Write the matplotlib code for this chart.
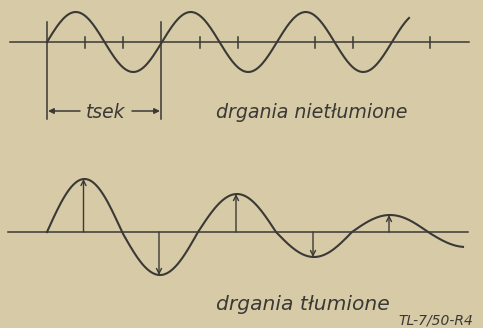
import numpy as np
import matplotlib.pyplot as plt

# drgania nietłumione (gorny wykres) - miejsca zerowe i amplitudy polfal, w px
top_zeros = [47, 104.5, 162, 219.5, 277, 334.5, 392, 449.5]
top_amps = [30, -30, 30, -30, 30, -30, 30]
top_end = 409
top_axis_y = 42
top_ticks = [85, 123, 200, 238, 315, 353, 430]

# drgania tłumione (dolny wykres)
bot_zeros = [47, 122, 198, 276, 352, 428, 504]
bot_amps = [53, -43, 38, -25, 17, -15]
bot_end = 463
bot_axis_y = 232

labels = ['drgania nietłumione', 'drgania tłumione', 'tsek', 'TL-7/50-R4']

bg = '#d7caa6'
ink = '#3a3935'


def curve(zeros, amps, x_end, axis_y):
    xs, ys = [], []
    for i, a in enumerate(amps):
        x0, x1 = zeros[i], zeros[i + 1]
        x = np.linspace(x0, min(x1, x_end), 60)
        xs.append(x)
        ys.append(axis_y - a * np.sin(np.pi * (x - x0) / (x1 - x0)))
        if x1 >= x_end:
            break
    return np.concatenate(xs), np.concatenate(ys)


fig = plt.figure(figsize=(4.83, 3.28), dpi=100, facecolor=bg)
ax = fig.add_axes([0, 0, 1, 1])
ax.set_facecolor(bg)
ax.set_xlim(0, 483)
ax.set_ylim(328, 0)
ax.axis('off')

# gorny wykres
ax.plot([10, 469], [top_axis_y, top_axis_y], color=ink, lw=1.1)
x, y = curve(top_zeros, top_amps, top_end, top_axis_y)
ax.plot(x, y, color=ink, lw=1.5)
for t in top_ticks:
    ax.plot([t, t], [top_axis_y - 5, top_axis_y + 6], color=ink, lw=1.1)
for vx in [top_zeros[0], top_zeros[2] - 1]:
    ax.plot([vx, vx], [22, 119], color=ink, lw=1.1)

# strzalki okresu
ax.annotate('', xy=(48, 111), xytext=(80, 111),
            arrowprops=dict(arrowstyle='-|>', color=ink, lw=1.1,
                            mutation_scale=8, shrinkA=0, shrinkB=0))
ax.annotate('', xy=(160, 111), xytext=(132, 111),
            arrowprops=dict(arrowstyle='-|>', color=ink, lw=1.1,
                            mutation_scale=8, shrinkA=0, shrinkB=0))
ax.text(106, 118, labels[2], color=ink, fontsize=13.5, style='italic',
        ha='center', va='baseline')
ax.text(216, 118, labels[0], color=ink, fontsize=13.7, style='italic',
        ha='left', va='baseline')

# dolny wykres
ax.plot([8, 468], [bot_axis_y, bot_axis_y], color=ink, lw=1.1)
x, y = curve(bot_zeros, bot_amps, bot_end, bot_axis_y)
ax.plot(x, y, color=ink, lw=1.5)
for i, a in enumerate(bot_amps[:5]):
    px = (bot_zeros[i] + bot_zeros[i + 1]) / 2 - 1
    ax.annotate('', xy=(px, bot_axis_y - a), xytext=(px, bot_axis_y),
                arrowprops=dict(arrowstyle='->', color=ink, lw=1.0,
                                mutation_scale=9, shrinkA=0, shrinkB=0))
ax.text(216, 310, labels[1], color=ink, fontsize=14.6, style='italic',
        ha='left', va='baseline')
ax.text(398, 324, labels[3], color=ink, fontsize=10, style='italic',
        ha='left', va='baseline')

fig.savefig('out.png', dpi=100, facecolor=bg)
